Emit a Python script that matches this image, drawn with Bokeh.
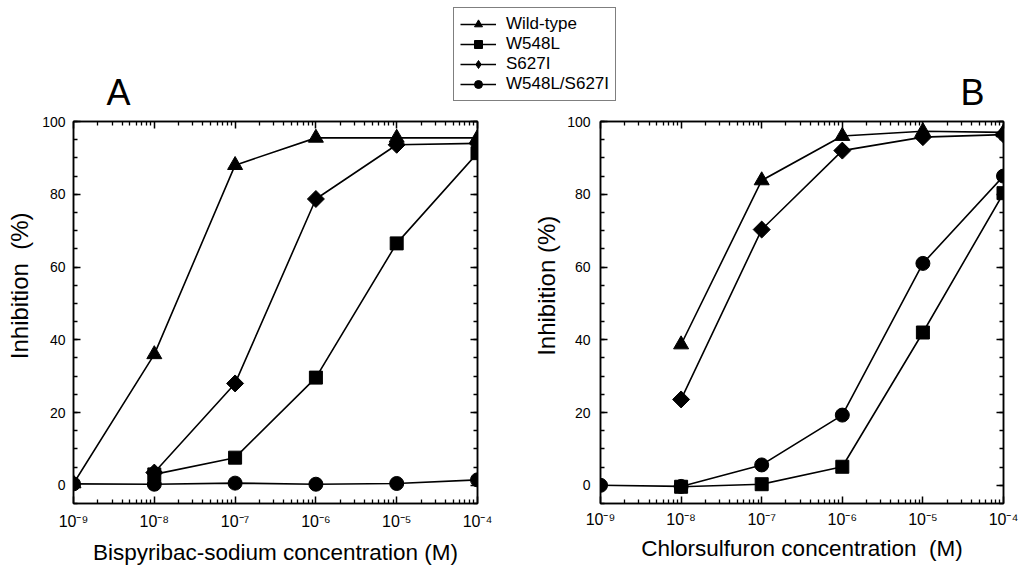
import math
from bokeh.plotting import figure
from bokeh.models import (FixedTicker, SingleIntervalTicker, Legend, LegendItem, Label,
                          Range1d, LogAxis, LinearAxis)
from bokeh.layouts import column, row
from bokeh.embed import file_html
from bokeh.resources import INLINE

# ---------------- data ----------------
conc = [1e-9, 1e-8, 1e-7, 1e-6, 1e-5, 1e-4]
tick_labels = ["10⁻⁹", "10⁻⁸", "10⁻⁷", "10⁻⁶", "10⁻⁵", "10⁻⁴"]
series_names = ["Wild-type", "W548L", "S627I", "W548L/S627I"]

# Panel A : Bispyribac-sodium
a_wild_x = [1e-9, 1e-8, 1e-7, 1e-6, 1e-5, 1e-4]
a_wild_y = [0.5, 36, 88, 95.5, 95.5, 95.5]
a_w548l_x = [1e-8, 1e-7, 1e-6, 1e-5, 1e-4]
a_w548l_y = [3.0, 7.6, 29.6, 66.5, 91.3]
a_s627i_x = [1e-8, 1e-7, 1e-6, 1e-5, 1e-4]
a_s627i_y = [3.5, 28, 78.7, 93.6, 94.0]
a_double_x = [1e-9, 1e-8, 1e-7, 1e-6, 1e-5, 1e-4]
a_double_y = [0.4, 0.3, 0.6, 0.3, 0.5, 1.5]

# Panel B : Chlorsulfuron
b_wild_x = [1e-8, 1e-7, 1e-6, 1e-5, 1e-4]
b_wild_y = [38.7, 83.8, 96.0, 97.3, 97.0]
b_w548l_x = [1e-8, 1e-7, 1e-6, 1e-5, 1e-4]
b_w548l_y = [-0.4, 0.3, 5.1, 42.0, 80.3]
b_s627i_x = [1e-8, 1e-7, 1e-6, 1e-5, 1e-4]
b_s627i_y = [23.6, 70.3, 92.0, 95.7, 96.4]
b_double_x = [1e-9, 1e-8, 1e-7, 1e-6, 1e-5, 1e-4]
b_double_y = [0.0, -0.3, 5.6, 19.3, 61.0, 85.0]

FONT = "Liberation Sans"
x_minor = [k * d for d in conc[:-1] for k in range(2, 10)]

MARK = {
    "Wild-type": dict(marker="triangle", size=15, angle=0),
    "W548L": dict(marker="square", size=13, angle=0),
    "S627I": dict(marker="square", size=12, angle=math.pi / 4),
    "W548L/S627I": dict(marker="circle", size=14, angle=0),
}
LEG_MARK = {"Wild-type": "triangle", "W548L": "square", "S627I": "diamond",
            "W548L/S627I": "circle"}


def style_axis(ax, labels=True):
    ax.axis_line_color = "black"
    ax.axis_line_width = 1.5
    ax.major_tick_line_color = "black"
    ax.minor_tick_line_color = "black"
    ax.major_tick_line_width = 1.5
    ax.minor_tick_line_width = 1.3
    ax.major_tick_in = 7
    ax.major_tick_out = 0
    ax.minor_tick_in = 4
    ax.minor_tick_out = 0
    ax.major_label_text_color = "black"
    if not labels:
        ax.major_label_text_font_size = "1px"
        ax.major_label_text_color = None
        ax.major_label_standoff = 0


def make_panel(width, xlabel, ylabel, bt, bb, bl, br, ylab_standoff, xlab_standoff,
               xtick_standoff, ytick_standoff, series):
    p = figure(width=width, height=456, x_axis_type="log",
               x_range=Range1d(conc[0], conc[-1]), y_range=Range1d(-5, 100),
               output_backend="svg", toolbar_location=None,
               min_border_top=bt, min_border_bottom=bb,
               min_border_left=bl, min_border_right=br)
    p.xgrid.visible = False
    p.ygrid.visible = False
    p.outline_line_color = "black"
    p.outline_line_width = 1.5
    p.background_fill_color = "white"

    xt = FixedTicker(ticks=conc, minor_ticks=x_minor)
    yt = SingleIntervalTicker(interval=20, num_minor_ticks=4)

    xa = p.xaxis[0]
    xa.ticker = xt
    xa.major_label_overrides = {c: lab for c, lab in zip(conc, tick_labels)}
    xa.axis_label = xlabel
    xa.axis_label_text_font = FONT
    xa.axis_label_text_font_size = "22.5px"
    xa.axis_label_text_font_style = "normal"
    xa.axis_label_text_color = "black"
    xa.axis_label_standoff = xlab_standoff
    xa.major_label_text_font = FONT
    xa.major_label_text_font_size = "16px"
    xa.major_label_standoff = xtick_standoff
    style_axis(xa)

    ya = p.yaxis[0]
    ya.ticker = yt
    ya.axis_label = ylabel
    ya.axis_label_text_font = FONT
    ya.axis_label_text_font_size = "24px"
    ya.axis_label_text_font_style = "normal"
    ya.axis_label_text_color = "black"
    ya.axis_label_standoff = ylab_standoff
    ya.major_label_text_font = FONT
    ya.major_label_text_font_size = "14px"
    ya.major_label_standoff = ytick_standoff
    style_axis(ya)

    top = LogAxis(ticker=xt)
    style_axis(top, labels=False)
    p.add_layout(top, "above")
    right = LinearAxis(ticker=yt)
    style_axis(right, labels=False)
    p.add_layout(right, "right")

    for name, xs, ys in series:
        m = MARK[name]
        p.line(xs, ys, line_color="black", line_width=1.6)
        p.scatter(xs, ys, marker=m["marker"], size=m["size"], angle=m["angle"],
                  fill_color="black", line_color="black")
    return p


NB = "\u00a0"
pa = make_panel(530, "Bispyribac-sodium concentration (M)",
                NB * 8 + "Inhibition" + NB * 2 + "(%)",
                10, 63, 73, 53, 6, 7, 9, 8,
                [("Wild-type", a_wild_x, a_wild_y),
                 ("W548L", a_w548l_x, a_w548l_y),
                 ("S627I", a_s627i_x, a_s627i_y),
                 ("W548L/S627I", a_double_x, a_double_y)])

pb = make_panel(491, "Chlorsulfuron concentration" + NB * 2 + "(M)",
                NB * 8 + "Inhibition (%)",
                10, 63, 70, 18, 4, 5, 7, 10,
                [("W548L/S627I", b_double_x, b_double_y),
                 ("W548L", b_w548l_x, b_w548l_y),
                 ("Wild-type", b_wild_x, b_wild_y),
                 ("S627I", b_s627i_x, b_s627i_y)])

# ---------------- top strip: legend + panel letters ----------------
ptop = figure(width=1021, height=111, x_range=Range1d(0, 1021), y_range=Range1d(0, 111),
              output_backend="svg", toolbar_location=None, min_border=0,
              x_axis_location=None, y_axis_location=None)
ptop.grid.visible = False
ptop.outline_line_color = None

nan = float("nan")
items = []
for name in series_names:
    rl = ptop.line([nan], [nan], line_color="black", line_width=1.6)
    rs = ptop.scatter([nan], [nan], marker=LEG_MARK[name],
                      fill_color="black", line_color="black")
    items.append(LegendItem(label=name, renderers=[rl, rs]))

legend = Legend(items=items, location=(453, 10), orientation="vertical",
                border_line_color="black", border_line_width=1.5,
                background_fill_color="white", background_fill_alpha=1,
                padding=6, spacing=0, margin=0,
                glyph_width=36, glyph_height=20, label_height=20,
                label_standoff=10, label_text_font=FONT,
                label_text_font_size="17px", label_text_color="black")
ptop.add_layout(legend)

ptop.add_layout(Label(x=118, y=19, text="A",
                      text_font=FONT, text_font_size="36px", text_color="black",
                      text_align="center", text_baseline="middle"))
ptop.add_layout(Label(x=972, y=19, text="B",
                      text_font=FONT, text_font_size="36px", text_color="black",
                      text_align="center", text_baseline="middle"))

layout = column(ptop, row(pa, pb))
open("out.html", "w").write(file_html(layout, INLINE))
